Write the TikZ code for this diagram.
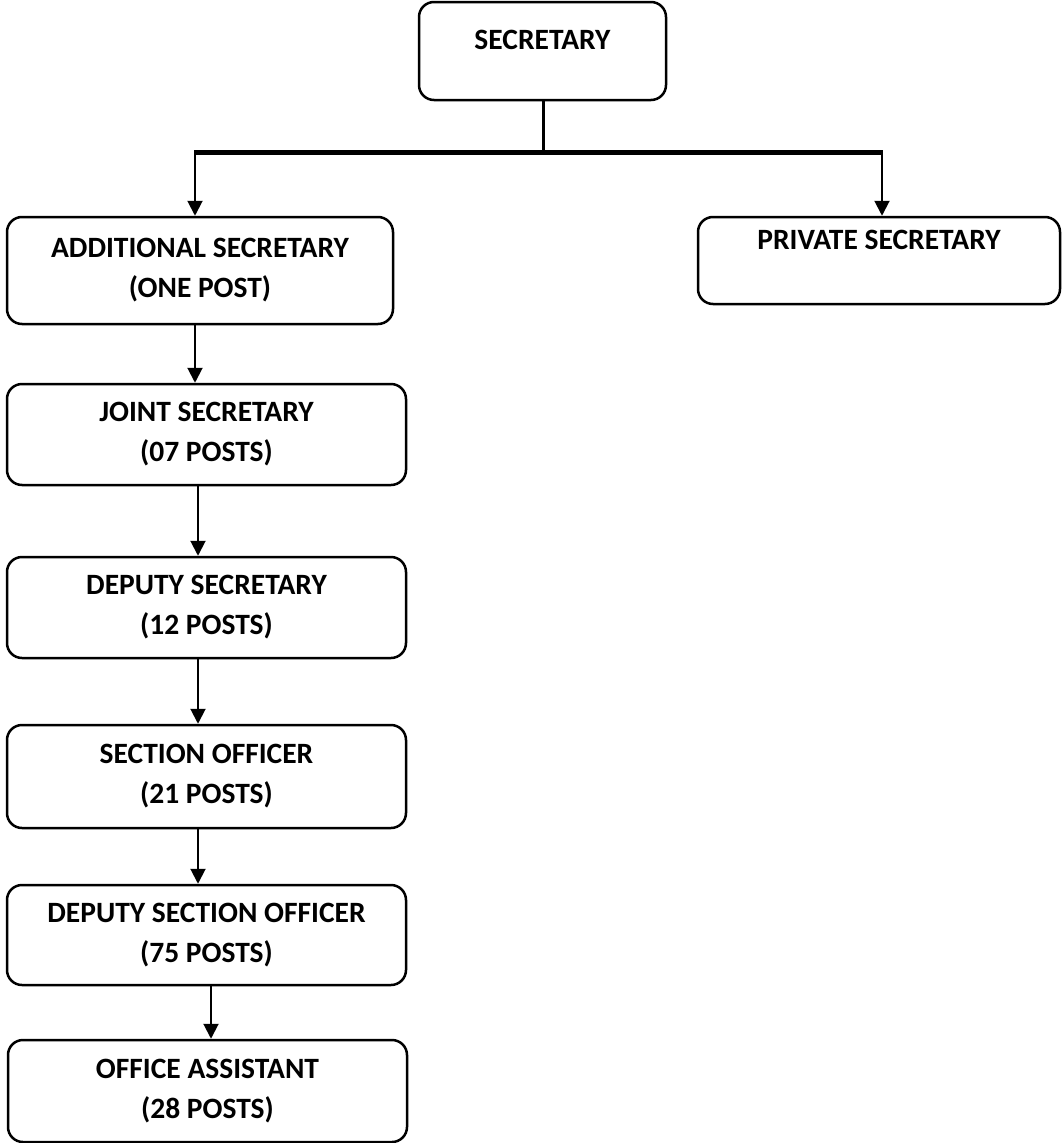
\documentclass[tikz,border=0pt]{standalone}
\usepackage{fontspec}
\setmainfont{Carlito}
\usetikzlibrary{arrows.meta}
\begin{document}
\begin{tikzpicture}[x=1pt,y=-1pt,
  box/.style={draw, line width=2.5pt, rounded corners=15pt, align=center, inner sep=0pt,
    font=\fontsize{29.5}{40}\selectfont\bfseries},
  lbl/.style={font=\fontsize{29.5}{40}\selectfont\bfseries, inner sep=0pt},
  arr/.style={line width=2pt, -{Triangle[width=15pt,length=15pt]}},
  bus/.style={line width=5pt}]
\useasboundingbox (0,0) rectangle (1061,1143);
\node[box, minimum width=247pt, minimum height=98pt] (sec) at (542.5,51) {};
\node[lbl] (sect) at (542.5,40) {SECRETARY};
\node[box, minimum width=386pt, minimum height=107pt] (add) at (200,270.5) {ADDITIONAL SECRETARY\\(ONE POST)};
\node[box, minimum width=362pt, minimum height=87pt] (priv) at (879,260.5) {};
\node[lbl] (privt) at (879,240) {PRIVATE SECRETARY};
\node[box, minimum width=399pt, minimum height=101pt] (joint) at (206.5,434.5) {JOINT SECRETARY\\(07 POSTS)};
\node[box, minimum width=399pt, minimum height=101pt] (dep) at (206.5,607.5) {DEPUTY SECRETARY\\(12 POSTS)};
\node[box, minimum width=399pt, minimum height=103pt] (so) at (206.5,776.5) {SECTION OFFICER\\(21 POSTS)};
\node[box, minimum width=399pt, minimum height=100pt] (dso) at (206.5,935) {DEPUTY SECTION OFFICER\\(75 POSTS)};
\node[box, minimum width=399pt, minimum height=102pt] (oa) at (207.5,1091) {OFFICE ASSISTANT\\(28 POSTS)};
\coordinate (j) at (543,152);
\coordinate (l) at (195,152);
\coordinate (r) at (882,152);
\coordinate (c1) at (198,0);
\coordinate (c2) at (211,0);
\draw[line width=3pt] (sec.south -| j) -- (j);
\draw[bus] ([xshift=-1pt]l) -- ([xshift=1pt]r);
\draw[arr] (l) -- (l |- add.north);
\draw[arr] (r) -- (r |- priv.north);
\draw[arr] (l |- add.south) -- (l |- joint.north);
\draw[arr] (c1 |- joint.south) -- (c1 |- dep.north);
\draw[arr] (c1 |- dep.south) -- (c1 |- so.north);
\draw[arr] (c1 |- so.south) -- (c1 |- dso.north);
\draw[arr] (c2 |- dso.south) -- (c2 |- oa.north);
\end{tikzpicture}
\end{document}
